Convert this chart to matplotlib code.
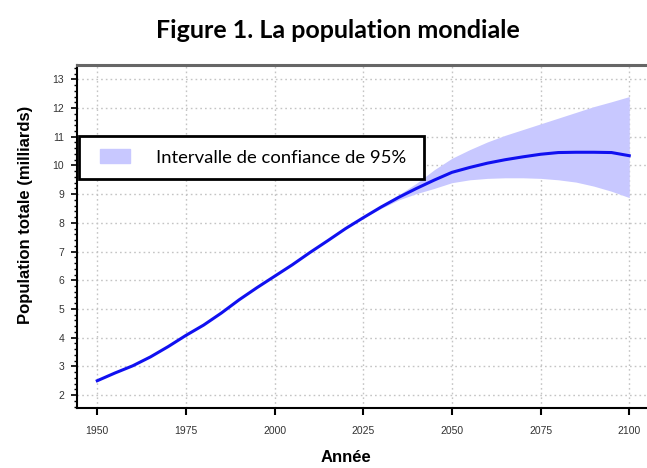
import numpy as np
import matplotlib
matplotlib.use("Agg")
from matplotlib import pyplot as plt
from matplotlib.patches import Patch, Rectangle
from matplotlib.ticker import MultipleLocator

# population mondiale (milliards)
annees = [1950, 1955, 1960, 1965, 1970, 1975, 1980, 1985, 1990, 1995, 2000,
          2005, 2010, 2015, 2020, 2025, 2030, 2035, 2040, 2045, 2050,
          2055, 2060, 2065, 2070, 2075, 2080, 2085, 2090, 2095, 2100]
population = [2.50, 2.77, 3.02, 3.33, 3.69, 4.08, 4.44, 4.86, 5.32, 5.74, 6.14,
              6.54, 6.97, 7.38, 7.80, 8.18, 8.55, 8.89, 9.20, 9.49, 9.76,
              9.93, 10.08, 10.20, 10.30, 10.39, 10.45, 10.46, 10.46, 10.45, 10.34]

# intervalle de confiance 95%
annees_ic = [2020, 2025, 2030, 2035, 2040, 2045, 2050, 2055, 2060,
             2065, 2070, 2075, 2080, 2085, 2090, 2095, 2100]
ic_haut = [7.80, 8.20, 8.60, 8.98, 9.38, 9.85, 10.25, 10.55, 10.82,
           11.05, 11.25, 11.45, 11.65, 11.85, 12.05, 12.22, 12.40]
ic_bas = [7.80, 8.17, 8.50, 8.80, 9.02, 9.20, 9.40, 9.50, 9.55,
          9.57, 9.57, 9.55, 9.50, 9.42, 9.28, 9.10, 8.88]

xticks = [1950, 1975, 2000, 2025, 2050, 2075, 2100]
yticks = list(range(2, 14))

bleu = "#1010f0"
lavande = "#c8c8ff"

fig = plt.figure(figsize=(6.47, 4.68), dpi=100)
ax = fig.add_axes([76.7 / 647, 1 - 408 / 468, 1 - 76.7 / 647, 343 / 468])

ax.fill_between(annees_ic, ic_bas, ic_haut, color=lavande, lw=0, zorder=2)
ax.plot(annees, population, color=bleu, lw=2.2, zorder=3)

ax.set_xlim(1944.2, 2105)
ax.set_ylim(1.55, 13.5)
ax.set_xticks(xticks)
ax.set_yticks(yticks)
ax.yaxis.set_minor_locator(MultipleLocator(0.2))
ax.grid(True, which="major", color="#c4c4c4", ls=(0, (1.2, 2.2)), lw=1)
ax.set_axisbelow(True)

ax.tick_params(axis="x", length=5, width=1.5, color="black", labelsize=7.5,
               labelcolor="#333333", pad=8)
ax.tick_params(axis="y", which="major", length=4, width=1.2, labelsize=7.5,
               labelcolor="#333333", pad=5)
ax.tick_params(axis="y", which="minor", length=2, width=1)
for lab in ax.get_xticklabels() + ax.get_yticklabels():
    lab.set_family("Liberation Sans")

ax.spines["right"].set_visible(False)
ax.spines["top"].set_color("#666666")
ax.spines["top"].set_linewidth(2.2)
ax.spines["left"].set_linewidth(1.5)
ax.spines["bottom"].set_linewidth(1.5)

# cadre de la légende
ax.add_patch(Rectangle((0.0046, 0.668), 0.604, 0.125, transform=ax.transAxes,
                       fc="white", ec="black", lw=2, zorder=5))
leg = ax.legend([Patch(color=lavande)], ["Intervalle de confiance de 95%"],
                loc="center left", bbox_to_anchor=(0.041, 0.7305),
                frameon=False, borderpad=0, borderaxespad=0,
                handlelength=1.6, handleheight=0.8, handletextpad=1.45,
                prop={"family": "Lato", "size": 13.3})
leg.set_zorder(6)

fig.text(0.522, 0.935, "Figure 1. La population mondiale", ha="center",
         va="center", fontsize=18, fontweight="bold", family="Lato")
fig.text(0.04, 0.54, "Population totale (milliards)", rotation=90,
         ha="center", va="center", fontsize=12, fontweight="bold",
         family="Liberation Sans")
fig.text(0.535, 0.022, "Année", ha="center", va="center", fontsize=12,
         fontweight="bold", family="Liberation Sans")

fig.savefig("out.png", dpi=100)
